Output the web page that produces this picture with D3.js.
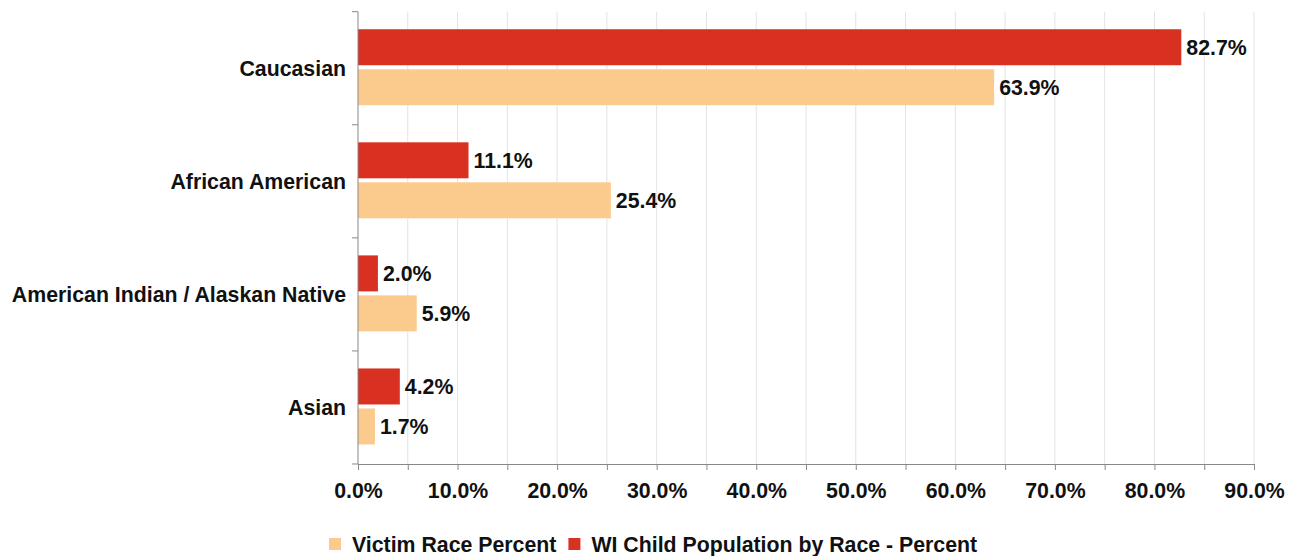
<!DOCTYPE html>
<html>
<head>
<meta charset="utf-8">
<script src="https://cdn.jsdelivr.net/npm/d3@7/dist/d3.min.js"></script>
<style>
  html, body { margin: 0; padding: 0; background: #fff; }
  svg { display: block; }
  text { font-family: "Liberation Sans", Arial, Helvetica, sans-serif; font-weight: bold; fill: #111; }
</style>
</head>
<body>
<svg id="chart" width="1293" height="556"></svg>
<script>
// Race of child maltreatment victims vs. Wisconsin child population
const categories = ["Caucasian", "African American", "American Indian / Alaskan Native", "Asian"];
const populationPercent = [82.7, 11.1, 2.0, 4.2];   // WI Child Population by Race - Percent
const victimPercent = [63.9, 25.4, 5.9, 1.7];       // Victim Race Percent
const xTicks = [0, 10, 20, 30, 40, 50, 60, 70, 80, 90];
const seriesNames = ["Victim Race Percent", "WI Child Population by Race - Percent"];
const colors = { victim: "#fbcb8d", population: "#d93121" };

const svg = d3.select("#chart");
const margin = { left: 358, right: 39, top: 11.7, bottom: 92 };
const W = 1293, H = 556;
const plotW = W - margin.left - margin.right;
const plotH = H - margin.top - margin.bottom;

const g = svg.append("g").attr("transform", `translate(${margin.left},${margin.top})`);

const x = d3.scaleLinear().domain([0, 90]).range([0, plotW]);
const y = d3.scaleBand().domain(categories).range([0, plotH]).padding(0);

// vertical gridlines every 5%
const gridVals = d3.range(5, 91, 5);
g.append("g").selectAll("line").data(gridVals).join("line")
  .attr("x1", d => x(d)).attr("x2", d => x(d))
  .attr("y1", 0).attr("y2", plotH)
  .attr("stroke", "#e3e3e3").attr("stroke-width", 1);

const barH = 36, gap = 4;
const rows = categories.map((c, i) => ({ c, pop: populationPercent[i], vic: victimPercent[i] }));
const fmt = v => v.toFixed(1) + "%";

const groupTop = d => y(d.c) + y.bandwidth() / 2 - 1 - (barH * 2 + gap) / 2;

// population bars (top of each pair)
g.append("g").selectAll("rect").data(rows).join("rect")
  .attr("x", 0).attr("y", d => groupTop(d))
  .attr("width", d => x(d.pop)).attr("height", barH)
  .attr("fill", colors.population);

// victim bars (bottom of each pair)
g.append("g").selectAll("rect").data(rows).join("rect")
  .attr("x", 0).attr("y", d => groupTop(d) + barH + gap)
  .attr("width", d => x(d.vic)).attr("height", barH)
  .attr("fill", colors.victim);

// value labels
const labelSize = 21.3;
g.append("g").selectAll("text").data(rows).join("text")
  .attr("x", d => x(d.pop) + 5).attr("y", d => groupTop(d) + barH / 2)
  .attr("dy", "0.36em").style("font-size", labelSize + "px")
  .text(d => fmt(d.pop));
g.append("g").selectAll("text").data(rows).join("text")
  .attr("x", d => x(d.vic) + 5).attr("y", d => groupTop(d) + barH * 1.5 + gap)
  .attr("dy", "0.36em").style("font-size", labelSize + "px")
  .text(d => fmt(d.vic));

// x axis: ticks every 5%, labels every 10%
const xAxis = d3.axisBottom(x).tickValues(d3.range(0, 91, 5)).tickSize(6).tickPadding(13)
  .tickFormat(d => (d % 10 === 0 ? d.toFixed(1) + "%" : ""));
const xg = g.append("g").attr("transform", `translate(0,${plotH})`).call(xAxis);
xg.select(".domain").attr("stroke", "#888");
xg.selectAll(".tick line").attr("stroke", "#888");
xg.selectAll(".tick text").style("font-size", labelSize + "px").style("font-family", "Liberation Sans, Arial, sans-serif").style("font-weight", "bold").attr("fill", "#111");

// y axis: ticks at category boundaries
const yg = g.append("g");
yg.append("line").attr("x1", 0).attr("x2", 0).attr("y1", 0).attr("y2", plotH).attr("stroke", "#888");
const bounds = categories.map(c => y(c)).concat([plotH]);
yg.selectAll("line.tk").data(bounds).join("line").attr("class", "tk")
  .attr("x1", -6).attr("x2", 0).attr("y1", d => d).attr("y2", d => d).attr("stroke", "#888");
yg.selectAll("text").data(categories).join("text")
  .attr("x", -12).attr("y", d => y(d) + y.bandwidth() / 2)
  .attr("dy", "0.36em").attr("text-anchor", "end").style("font-size", labelSize + "px")
  .text(d => d);

// legend
const legend = svg.append("g").attr("transform", "translate(329,544)");
const items = [
  { name: seriesNames[0], color: colors.victim },
  { name: seriesNames[1], color: colors.population }
];
let lx = 0;
items.forEach(it => {
  const item = legend.append("g").attr("transform", `translate(${lx},0)`);
  item.append("rect").attr("x", 0).attr("y", -6).attr("width", 12).attr("height", 12).attr("fill", it.color);
  const t = item.append("text").attr("x", 23).attr("y", 0).attr("dy", "0.36em")
    .style("font-size", labelSize + "px").text(it.name);
  lx += 23 + t.node().getComputedTextLength() + 12;
});
</script>
</body>
</html>
